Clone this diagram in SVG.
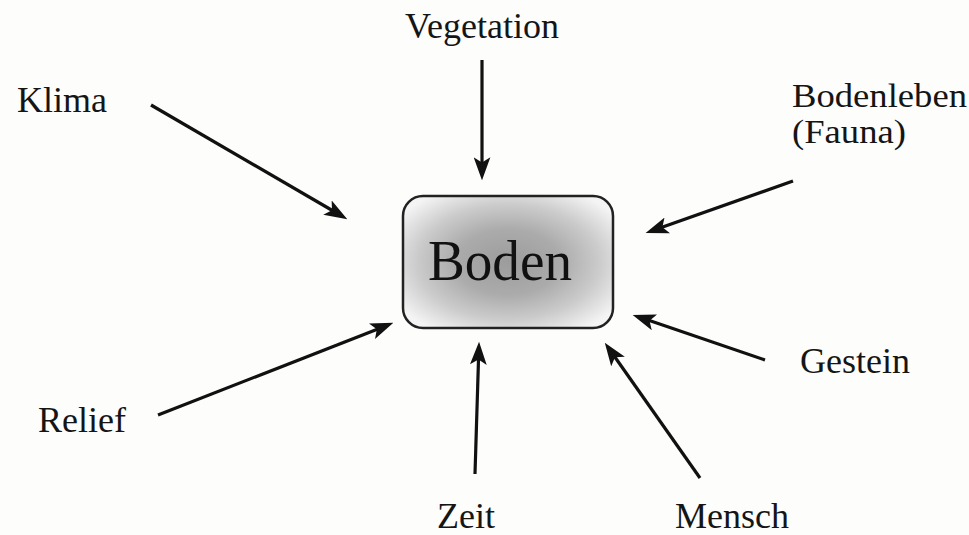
<svg xmlns="http://www.w3.org/2000/svg" width="969" height="535" viewBox="0 0 969 535">
  <style>
    .lbl { font-family: "Liberation Serif", "Times New Roman", serif; font-size: 36px; fill: #151515; }
    .sm { font-size: 33px; }
    .arr { stroke: #111; stroke-width: 3.2; fill: none; marker-end: url(#ah); }
  </style>
  <defs>
    <marker id="ah" viewBox="0 0 22 16" refX="14" refY="8" markerWidth="23" markerHeight="17" markerUnits="userSpaceOnUse" orient="auto">
      <path d="M0,0 L22,8 L0,16 L5,8 Z" fill="#111"/>
    </marker>
    <radialGradient id="g" cx="0.5" cy="0.5" r="0.62">
      <stop offset="0" stop-color="#9c9c9c"/>
      <stop offset="0.4" stop-color="#ababab"/>
      <stop offset="0.7" stop-color="#cbcbcb"/>
      <stop offset="1" stop-color="#f4f4f4"/>
    </radialGradient>
  </defs>
  <rect width="969" height="535" fill="#fdfdfb"/>

  <g id="connectors">
    <line class="arr" x1="151" y1="105" x2="340.1" y2="215"/>
    <line class="arr" x1="482" y1="60" x2="482" y2="172"/>
    <line class="arr" x1="793" y1="181" x2="653.5" y2="230.3"/>
    <line class="arr" x1="765" y1="360" x2="640.6" y2="317.6"/>
    <line class="arr" x1="700" y1="478" x2="609.6" y2="349.5"/>
    <line class="arr" x1="475" y1="474" x2="478.8" y2="350"/>
    <line class="arr" x1="158" y1="415" x2="385.6" y2="325.9"/>
  </g>

  <g id="boden">
    <rect x="403" y="196" width="210" height="132" rx="20" ry="20" fill="url(#g)" stroke="#222" stroke-width="2.5"/>
    <text x="500" y="280" text-anchor="middle" font-family="Liberation Serif, Times New Roman, serif" font-size="57" fill="#111" textLength="144" lengthAdjust="spacingAndGlyphs">Boden</text>
  </g>
  <g id="klima"><text class="lbl" x="17" y="112">Klima</text></g>
  <g id="vegetation"><text class="lbl" x="405" y="38">Vegetation</text></g>
  <g id="bodenleben"><text class="lbl sm" x="792" y="107" textLength="175" lengthAdjust="spacingAndGlyphs">Bodenleben</text><text class="lbl sm" x="792" y="143" textLength="114" lengthAdjust="spacingAndGlyphs">(Fauna)</text></g>
  <g id="gestein"><text class="lbl" x="800" y="373">Gestein</text></g>
  <g id="mensch"><text class="lbl" x="675" y="528">Mensch</text></g>
  <g id="zeit"><text class="lbl" x="437" y="528">Zeit</text></g>
  <g id="relief"><text class="lbl" x="38" y="432">Relief</text></g>
</svg>
